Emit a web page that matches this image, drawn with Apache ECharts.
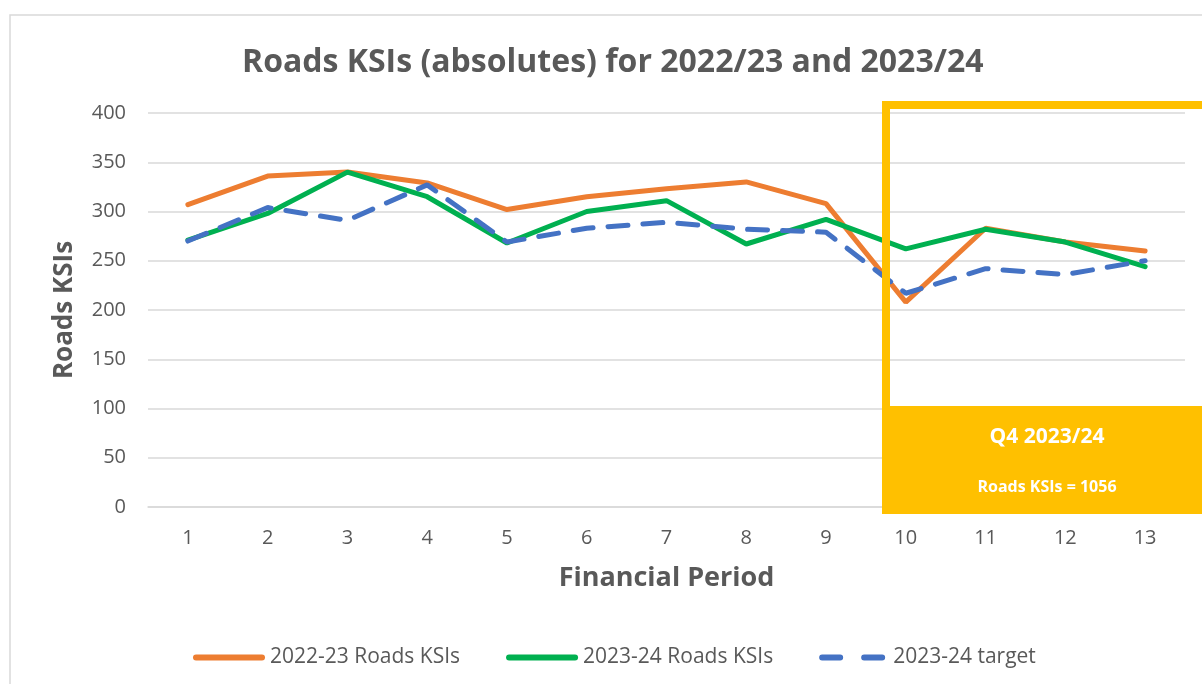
<!DOCTYPE html>
<html lang="en">
<head>
    <meta charset="UTF-8">
    <script src="https://cdn.jsdelivr.net/npm/echarts@6/dist/echarts.min.js"></script>
    <style>
        body { margin: 0; background: #fff; }
        #chart { width: 1202px; height: 684px; }
    </style>
</head>
<body>
    <div id="chart"></div>
    <script>
        // data
        const periods = ['1', '2', '3', '4', '5', '6', '7', '8', '9', '10', '11', '12', '13'];
        const ksi2223 = [307, 336, 340, 329, 302, 315, 323, 330, 308, 208, 283, 269, 260];
        const ksi2324 = [271, 298, 340, 315, 268, 300, 311, 267, 292, 262, 282, 269, 244];
        const target2324 = [270, 304, 291, 327, 269, 283, 289, 282, 279, 217, 242, 236, 250];
        const quarterLabel = 'Q4 2023/24';
        const quarterTotal = 'Roads KSIs = 1056';

        const font = 'Open Sans';
        const grey = '#595959';

        // legend icons: a rounded bar, and two dashes for the target line
        const solidIcon = 'path://M3,0H69A3,3 0 0 1 69,6H3A3,3 0 0 1 3,0Z';
        const dashIcon = 'path://M3,0H21A3,3 0 0 1 21,6H3A3,3 0 0 1 3,0Z M45,0H63A3,3 0 0 1 63,6H45A3,3 0 0 1 45,0Z';

        const myChart = echarts.init(document.getElementById('chart'));

        const option = {
            backgroundColor: '#fff',
            title: {
                text: 'Roads KSIs (absolutes) for 2022/23 and 2023/24',
                left: 237,
                top: 42,
                textStyle: { fontFamily: font, fontSize: 32, fontWeight: 'bold', color: grey }
            },
            legend: {
                top: 642,
                left: 188,
                itemWidth: 72,
                itemHeight: 6,
                itemGap: 46,
                data: [
                    { name: '2022-23 Roads KSIs', icon: solidIcon },
                    { name: '2023-24 Roads KSIs', icon: solidIcon },
                    { name: '2023-24 target', icon: dashIcon }
                ],
                textStyle: { fontFamily: font, fontSize: 21, color: grey }
            },
            grid: { left: 148, right: 17, top: 113, bottom: 177 },
            xAxis: {
                type: 'category',
                data: periods,
                name: 'Financial Period',
                nameLocation: 'middle',
                nameGap: 58,
                nameTextStyle: { fontFamily: font, fontSize: 27, fontWeight: 'bold', color: grey },
                axisLine: { lineStyle: { color: '#d9d9d9', width: 1.5 } },
                axisTick: { show: false },
                axisLabel: { fontFamily: font, fontSize: 20, color: grey, margin: 21 }
            },
            yAxis: {
                type: 'value',
                min: 0,
                max: 400,
                interval: 50,
                name: 'Roads KSIs',
                nameLocation: 'middle',
                nameGap: 70,
                nameTextStyle: { fontFamily: font, fontSize: 26, fontWeight: 'bold', color: grey },
                axisLabel: { fontFamily: font, fontSize: 20, color: grey, margin: 22 },
                splitLine: { lineStyle: { color: '#d9d9d9', width: 1.5 } }
            },
            series: [
                {
                    name: '2022-23 Roads KSIs',
                    type: 'line',
                    data: ksi2223,
                    symbol: 'none',
                    color: '#ED7D31',
                    lineStyle: { width: 5, color: '#ED7D31', cap: 'round' }
                },
                {
                    name: '2023-24 Roads KSIs',
                    type: 'line',
                    data: ksi2324,
                    symbol: 'none',
                    color: '#00B050',
                    lineStyle: { width: 5, color: '#00B050', cap: 'round' }
                },
                {
                    name: '2023-24 target',
                    type: 'line',
                    data: target2324,
                    symbol: 'none',
                    color: '#4472C4',
                    lineStyle: { width: 5, color: '#4472C4', type: [20, 15], cap: 'round' }
                }
            ],
            graphic: [
                // chart frame
                {
                    type: 'rect',
                    shape: { x: 10, y: 15, width: 1220, height: 700 },
                    style: { fill: 'none', stroke: '#d9d9d9', lineWidth: 1.5 },
                    silent: true
                },
                // Q4 highlight box
                {
                    type: 'rect',
                    shape: { x: 886, y: 105, width: 330, height: 305 },
                    style: { fill: 'none', stroke: '#FFC000', lineWidth: 8 },
                    z: 100
                },
                {
                    type: 'rect',
                    shape: { x: 882, y: 408, width: 330, height: 106 },
                    style: { fill: '#FFC000' },
                    z: 100
                },
                {
                    type: 'text',
                    x: 1047, y: 437,
                    style: {
                        text: quarterLabel, fill: '#fff', align: 'center', verticalAlign: 'middle',
                        font: 'bold 21px "Open Sans"'
                    },
                    z: 101
                },
                {
                    type: 'text',
                    x: 1047, y: 487,
                    style: {
                        text: quarterTotal, fill: '#fff', align: 'center', verticalAlign: 'middle',
                        font: 'bold 16px "Open Sans"'
                    },
                    z: 101
                }
            ]
        };

        myChart.setOption(option);
    </script>
</body>
</html>
